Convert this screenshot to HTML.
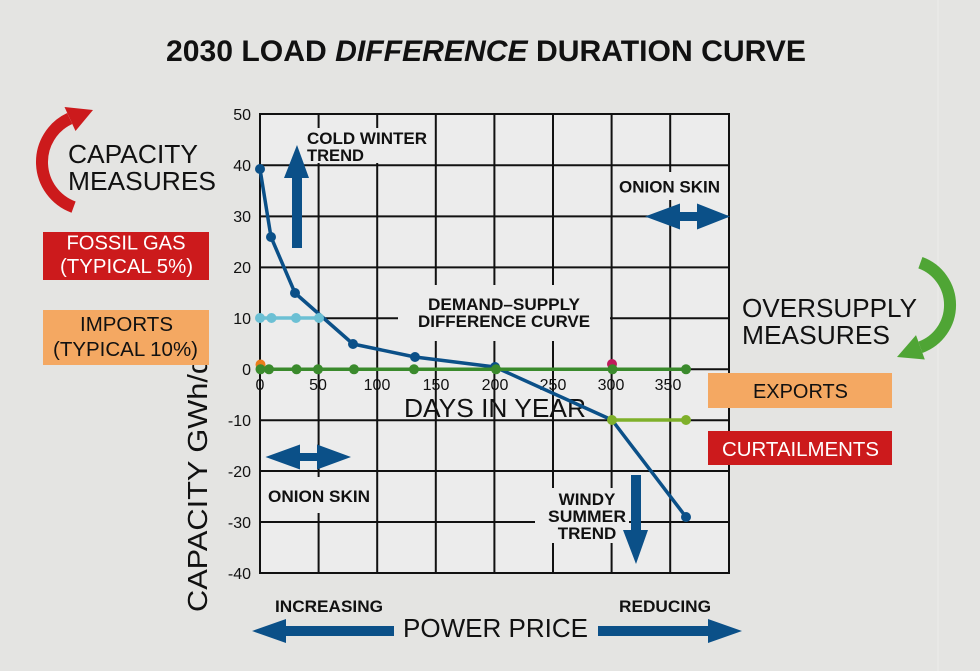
<!DOCTYPE html>
<html>
<head>
<meta charset="utf-8">
<style>
  html,body{margin:0;padding:0;background:#e4e4e2;}
  svg{display:block;}
  text{font-family:"Liberation Sans",Arial,sans-serif;}
</style>
</head>
<body>
<svg width="980" height="671" viewBox="0 0 980 671" xmlns="http://www.w3.org/2000/svg">
  <rect x="0" y="0" width="980" height="671" fill="#e4e4e2"/>
  <line x1="938" y1="0" x2="938" y2="671" stroke="#ededeb" stroke-width="1"/>

  <!-- Title -->
  <text x="166" y="61" font-size="30" font-weight="bold" fill="#111" textLength="640" lengthAdjust="spacingAndGlyphs">2030 LOAD <tspan font-style="italic">DIFFERENCE</tspan> DURATION CURVE</text>

  <!-- Plot background -->
  <rect x="260" y="114" width="469" height="459" fill="#ececec"/>

  <!-- Grid -->
  <g stroke="#111" stroke-width="2">
    <line x1="318.6" y1="114" x2="318.6" y2="573"/>
    <line x1="377.2" y1="114" x2="377.2" y2="573"/>
    <line x1="435.8" y1="114" x2="435.8" y2="573"/>
    <line x1="494.4" y1="114" x2="494.4" y2="573"/>
    <line x1="553" y1="114" x2="553" y2="573"/>
    <line x1="611.6" y1="114" x2="611.6" y2="573"/>
    <line x1="670.2" y1="114" x2="670.2" y2="573"/>
    <line x1="260" y1="165.3" x2="729" y2="165.3"/>
    <line x1="260" y1="216.4" x2="729" y2="216.4"/>
    <line x1="260" y1="267.4" x2="729" y2="267.4"/>
    <line x1="260" y1="318.3" x2="729" y2="318.3"/>
    <line x1="260" y1="369.3" x2="729" y2="369.3"/>
    <line x1="260" y1="420.3" x2="729" y2="420.3"/>
    <line x1="260" y1="471" x2="729" y2="471"/>
    <line x1="260" y1="522" x2="729" y2="522"/>
  </g>

  <!-- gap backgrounds -->
  <g fill="#ececec">
    <rect x="304" y="128" width="128" height="35"/>
    <rect x="614" y="172" width="113" height="28"/>
    <rect x="398" y="285" width="212" height="56"/>
    <rect x="264" y="477" width="108" height="36"/>
    <rect x="535" y="488" width="94" height="55"/>
  </g>

  <!-- plot border -->
  <rect x="260" y="114" width="469" height="459" fill="none" stroke="#111" stroke-width="2"/>

  <!-- Y tick labels -->
  <g font-size="16" fill="#111" text-anchor="end">
    <text x="251" y="120">50</text>
    <text x="251" y="171">40</text>
    <text x="251" y="222">30</text>
    <text x="251" y="273">20</text>
    <text x="251" y="324">10</text>
    <text x="251" y="375">0</text>
    <text x="251" y="426">-10</text>
    <text x="251" y="477">-20</text>
    <text x="251" y="528">-30</text>
    <text x="251" y="579">-40</text>
  </g>

  <!-- X tick labels -->
  <g font-size="16" fill="#111" text-anchor="middle">
    <text x="260" y="390">0</text>
    <text x="318" y="390">50</text>
    <text x="377" y="390">100</text>
    <text x="436" y="390">150</text>
    <text x="495" y="390">200</text>
    <text x="553" y="390">250</text>
    <text x="611" y="390">300</text>
    <text x="668" y="390">350</text>
  </g>

  <text x="404" y="417" font-size="26" fill="#111" textLength="182" lengthAdjust="spacingAndGlyphs">DAYS IN YEAR</text>

  <!-- Y axis title -->
  <text transform="translate(207,484.5) rotate(-90)" font-size="28" fill="#111" text-anchor="middle" textLength="255" lengthAdjust="spacingAndGlyphs">CAPACITY GWh/d</text>

  <!-- in-plot labels -->
  <g font-size="17" font-weight="bold" fill="#111">
    <text x="307" y="144" textLength="120" lengthAdjust="spacingAndGlyphs">COLD WINTER</text>
    <text x="307" y="161" textLength="57" lengthAdjust="spacingAndGlyphs">TREND</text>
    <text x="619" y="192.5" textLength="101" lengthAdjust="spacingAndGlyphs">ONION SKIN</text>
    <text x="268" y="502" textLength="102" lengthAdjust="spacingAndGlyphs">ONION SKIN</text>
    <text x="504" y="310" text-anchor="middle" textLength="152" lengthAdjust="spacingAndGlyphs">DEMAND–SUPPLY</text>
    <text x="504" y="327" text-anchor="middle" textLength="172" lengthAdjust="spacingAndGlyphs">DIFFERENCE CURVE</text>
    <text x="587" y="505" text-anchor="middle">WINDY</text>
    <text x="587" y="522" text-anchor="middle" textLength="78" lengthAdjust="spacingAndGlyphs">SUMMER</text>
    <text x="587" y="539" text-anchor="middle">TREND</text>
    <text x="275" y="612" textLength="108" lengthAdjust="spacingAndGlyphs">INCREASING</text>
    <text x="619" y="612" textLength="92" lengthAdjust="spacingAndGlyphs">REDUCING</text>
  </g>

  <!-- Blue arrows -->
  <g fill="#0b5088">
    <!-- up arrow -->
    <polygon points="292,248 302,248 302,178 309,178 297,145 284,178 292,178"/>
    <!-- down arrow -->
    <polygon points="631,475 641,475 641,530 648,530 636,564 623,530 631,530"/>
    <!-- top-right double arrow -->
    <polygon points="645,216.5 680,203.5 680,212 697,212 697,203.5 730,216.5 697,229.5 697,221 680,221 680,229.5"/>
    <!-- bottom-left double arrow -->
    <polygon points="265.5,457 300,444.5 300,453 317,453 317,444.5 351,457 317,469.5 317,461 300,461 300,469.5"/>
    <!-- bottom big arrows -->
    <polygon points="252,631 286,619 286,626 394,626 394,636 286,636 286,643"/>
    <polygon points="742,631 708,619 708,626 598,626 598,636 708,636 708,643"/>
  </g>

  <text x="403" y="637" font-size="26" fill="#111" textLength="185" lengthAdjust="spacingAndGlyphs">POWER PRICE</text>

  <!-- Data series -->
  <polyline points="260,169 271,237 295,293 353,344 415,357 495,367 612,420 686,517" fill="none" stroke="#0b5088" stroke-width="3.5" stroke-linejoin="round"/>
  <g fill="#0b5088">
    <circle cx="260" cy="169" r="5"/>
    <circle cx="271" cy="237" r="5"/>
    <circle cx="295" cy="293" r="5"/>
    <circle cx="353" cy="344" r="5"/>
    <circle cx="415" cy="357" r="5"/>
    <circle cx="495" cy="367" r="5"/>
    <circle cx="686" cy="517" r="5"/>
  </g>

  <polyline points="260,318 319,318" fill="none" stroke="#6cc0d4" stroke-width="3.5"/>
  <g fill="#6cc0d4">
    <circle cx="260" cy="318" r="5"/>
    <circle cx="271.5" cy="318" r="5"/>
    <circle cx="296" cy="318" r="5"/>
    <circle cx="319" cy="318" r="5"/>
  </g>

  <circle cx="260.5" cy="364.5" r="5" fill="#ea7d1c"/>
  <circle cx="612" cy="364" r="5" fill="#c01a5c"/>

  <line x1="260" y1="369.3" x2="686" y2="369.3" stroke="#3a8a2c" stroke-width="3.5"/>
  <g fill="#3a8a2c">
    <circle cx="260.5" cy="369.3" r="5"/>
    <circle cx="269" cy="369.3" r="5"/>
    <circle cx="296.5" cy="369.3" r="5"/>
    <circle cx="318" cy="369.3" r="5"/>
    <circle cx="354" cy="369.3" r="5"/>
    <circle cx="414" cy="369.3" r="5"/>
    <circle cx="496" cy="369.3" r="5"/>
    <circle cx="612.5" cy="369.3" r="5"/>
    <circle cx="686" cy="369.3" r="5"/>
  </g>

  <line x1="612" y1="420" x2="686" y2="420" stroke="#7fb02a" stroke-width="3.5"/>
  <g fill="#7fb02a">
    <circle cx="612" cy="420" r="5"/>
    <circle cx="686" cy="420" r="5"/>
  </g>

  <!-- Left side: capacity measures -->
  <path d="M73.58,207.11 A48,48 0 0 1 69.71,118.5" fill="none" stroke="#cc1a1c" stroke-width="12"/>
  <polygon points="64.5,107 93,110 75.5,131" fill="#cc1a1c"/>
  <text x="68" y="163" font-size="26" fill="#111" textLength="130" lengthAdjust="spacingAndGlyphs">CAPACITY</text>
  <text x="68" y="190" font-size="26" fill="#111" textLength="148" lengthAdjust="spacingAndGlyphs">MEASURES</text>

  <rect x="43" y="232" width="166" height="48" fill="#cc1a1c"/>
  <text x="126" y="249.5" font-size="20" fill="#fff" text-anchor="middle" textLength="119" lengthAdjust="spacingAndGlyphs">FOSSIL GAS</text>
  <text x="126.5" y="273" font-size="20" fill="#fff" text-anchor="middle" textLength="133" lengthAdjust="spacingAndGlyphs">(TYPICAL 5%)</text>

  <rect x="43" y="310" width="166" height="55" fill="#f4a862"/>
  <text x="126.5" y="331" font-size="20" fill="#111" text-anchor="middle" textLength="93" lengthAdjust="spacingAndGlyphs">IMPORTS</text>
  <text x="125.5" y="356" font-size="20" fill="#111" text-anchor="middle" textLength="145" lengthAdjust="spacingAndGlyphs">(TYPICAL 10%)</text>

  <!-- Right side: oversupply measures -->
  <path d="M920.4,262.7 A45,45 0 0 1 920.4,347.3" fill="none" stroke="#4fa535" stroke-width="12"/>
  <polygon points="924.8,359.5 897,357 916,335.1" fill="#4fa535"/>
  <text x="742" y="317" font-size="26" fill="#111" textLength="175" lengthAdjust="spacingAndGlyphs">OVERSUPPLY</text>
  <text x="742" y="344" font-size="26" fill="#111" textLength="148" lengthAdjust="spacingAndGlyphs">MEASURES</text>

  <rect x="708" y="373" width="184" height="35" fill="#f4a862"/>
  <text x="800.5" y="398" font-size="20" fill="#111" text-anchor="middle" textLength="95" lengthAdjust="spacingAndGlyphs">EXPORTS</text>

  <rect x="708" y="431" width="184" height="34" fill="#cc1a1c"/>
  <text x="800.5" y="456" font-size="20" fill="#fff" text-anchor="middle" textLength="157" lengthAdjust="spacingAndGlyphs">CURTAILMENTS</text>
</svg>
</body>
</html>
